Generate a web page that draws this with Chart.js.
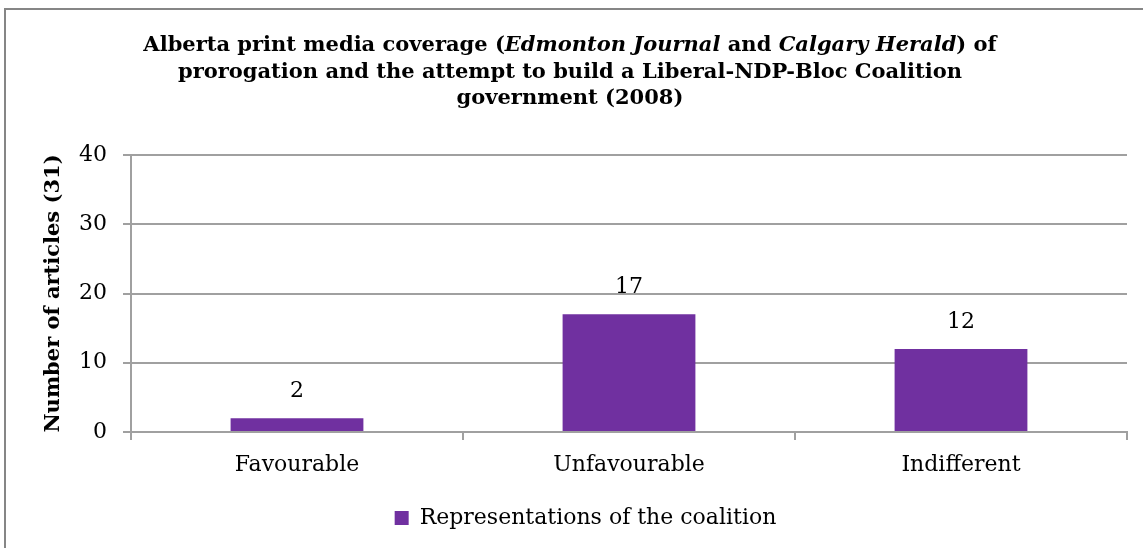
<!DOCTYPE html>
<html lang="en">
<head>
  <meta charset="UTF-8" />
  <title>Alberta print media coverage</title>
  <script src="https://cdn.jsdelivr.net/npm/chart.js"></script>
  <style>
    html, body {
      margin: 0;
      padding: 0;
      background: white;
    }
    .wrap {
      position: relative;
      width: 1143px;
      height: 548px;
      overflow: hidden;
      background: white;
    }
    .frame {
      position: absolute;
      left: 4px;
      top: 8px;
      width: 1200px;
      height: 600px;
      border-left: 2px solid #868686;
      border-top: 2px solid #868686;
      pointer-events: none;
    }
    .title {
      position: absolute;
      left: 0;
      top: 31px;
      width: 1140px;
      text-align: center;
      font-family: "DejaVu Serif", serif;
      font-weight: bold;
      font-size: 21px;
      line-height: 26.5px;
      color: #000;
    }
    canvas {
      position: absolute;
      left: 0;
      top: 0;
    }
  </style>
</head>
<body>
  <div class="wrap">
    <canvas id="coverageChart" width="1143" height="548"></canvas>
    <div class="frame"></div>
    <div class="title">
      Alberta print media coverage (<i>Edmonton Journal</i> and <i>Calgary Herald</i>) of<br>
      prorogation and the attempt to build a Liberal-NDP-Bloc Coalition<br>
      government (2008)
    </div>
  </div>

  <script>
    const categories = ['Favourable', 'Unfavourable', 'Indifferent'];
    const seriesName = 'Representations of the coalition';
    const articleCounts = [2, 17, 12];
    const yTicks = [0, 10, 20, 30, 40];

    const serif = '"DejaVu Serif", serif';
    const gridGray = '#a0a0a0';

    // value printed above each bar
    const barLabels = {
      id: 'barLabels',
      afterDatasetsDraw(chart) {
        const { ctx } = chart;
        const meta = chart.getDatasetMeta(0);
        ctx.save();
        ctx.font = '22px ' + serif;
        ctx.fillStyle = '#000';
        ctx.textAlign = 'center';
        ctx.textBaseline = 'alphabetic';
        meta.data.forEach((bar, i) => {
          ctx.fillText(String(articleCounts[i]), bar.x, bar.y - 21);
        });
        ctx.restore();
      }
    };

    const ctx = document.getElementById('coverageChart').getContext('2d');
    new Chart(ctx, {
      type: 'bar',
      data: {
        labels: categories,
        datasets: [{
          label: seriesName,
          data: articleCounts,
          backgroundColor: '#7030a0',
          borderWidth: 0,
          categoryPercentage: 1,
          barPercentage: 0.4
        }]
      },
      options: {
        responsive: false,
        animation: false,
        layout: {
          padding: { top: 155, right: 16, bottom: 9, left: 44 }
        },
        plugins: {
          legend: {
            position: 'bottom',
            labels: {
              boxWidth: 14,
              boxHeight: 14,
              padding: 10,
              color: '#000',
              font: { family: serif, size: 22 }
            }
          },
          tooltip: { enabled: false }
        },
        scales: {
          x: {
            offset: true,
            grid: {
              offset: true,
              drawOnChartArea: false,
              color: gridGray,
              lineWidth: 2,
              tickLength: 8
            },
            border: { color: gridGray, width: 2 },
            ticks: {
              color: '#000',
              padding: 12,
              font: { family: serif, size: 22 }
            },
            afterFit(scale) { scale.height = 65; }
          },
          y: {
            min: 0,
            max: 40,
            afterBuildTicks(scale) {
              scale.ticks = yTicks.map(v => ({ value: v }));
            },
            grid: {
              color: gridGray,
              lineWidth: 2,
              tickLength: 8
            },
            border: { color: gridGray, width: 2 },
            ticks: {
              color: '#000',
              padding: 16,
              font: { family: serif, size: 22 }
            },
            title: {
              display: true,
              text: 'Number of articles (31)',
              color: '#000',
              padding: { top: -3, bottom: 0 },
              font: { family: serif, size: 21, weight: 'bold' }
            },
            afterFit(scale) { scale.width = 87; }
          }
        }
      },
      plugins: [barLabels]
    });
  </script>
</body>
</html>
